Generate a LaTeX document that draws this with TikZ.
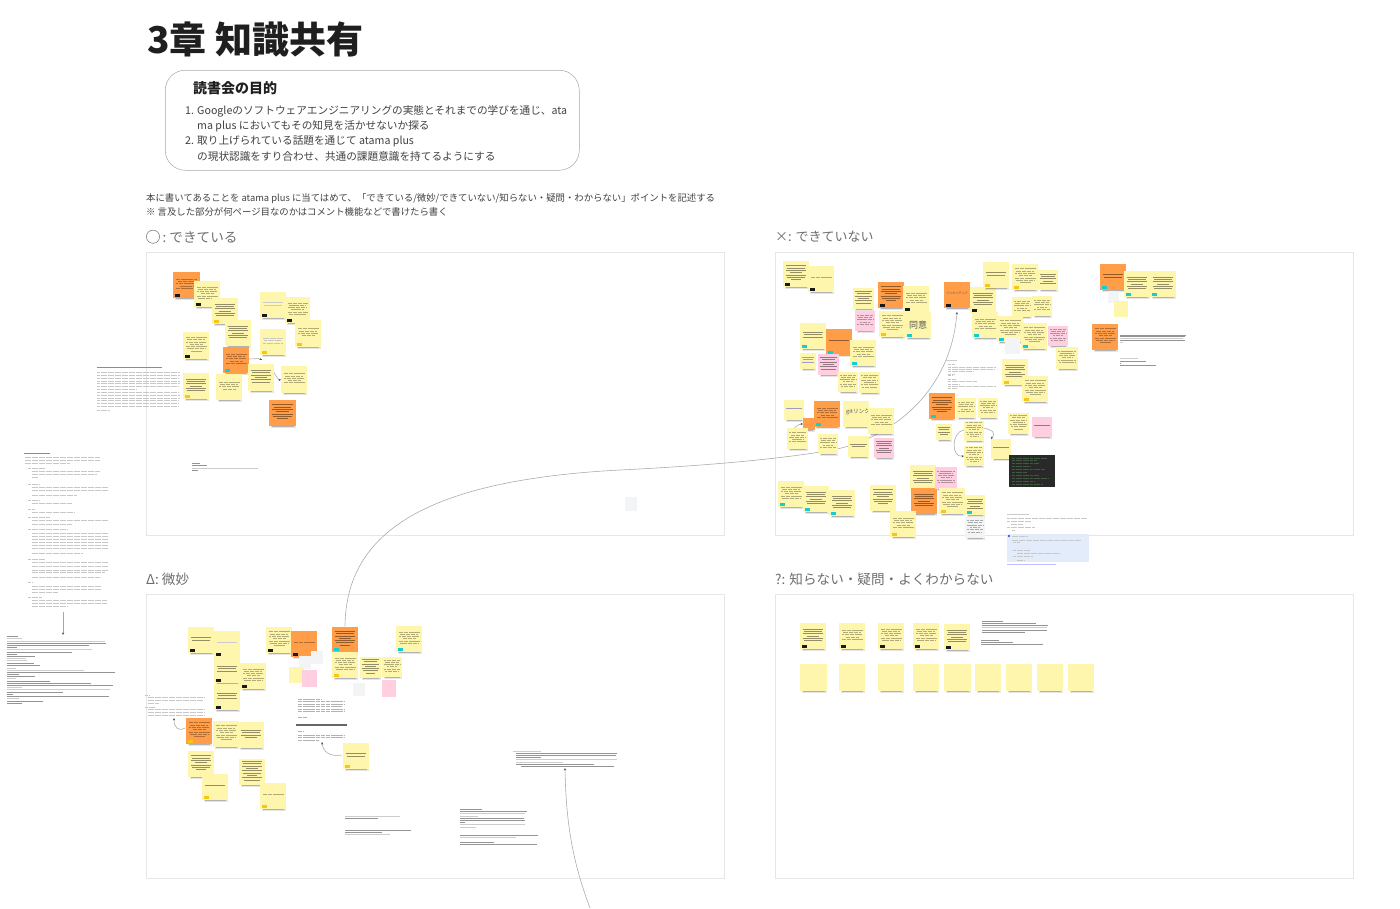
\documentclass[tikz,border=0pt]{standalone}
\usepackage{fontspec}
\setmainfont{Noto Sans CJK JP}
\usetikzlibrary{arrows.meta}
\definecolor{yel}{HTML}{FEF6AC}
\definecolor{ora}{HTML}{FF9D48}
\definecolor{pnk}{HTML}{FFCEE0}
\definecolor{gry}{HTML}{F3F4F6}
\definecolor{tagk}{HTML}{1A1A1A}
\definecolor{tagc}{HTML}{12CDD4}
\definecolor{tagg}{HTML}{FAC710}
\definecolor{frm}{HTML}{E6E6E6}
\definecolor{lbl}{HTML}{6E6E6E}
\definecolor{ink}{HTML}{1F1F1F}
\definecolor{bluedocc}{HTML}{E3ECFB}
\definecolor{darkln}{HTML}{3F5A3F}
\tikzset{
 x=1pt,y=-1pt,
 frame/.style={draw=frm,line width=.8pt,fill=white},
 stickyb/.style={anchor=north west,inner sep=0pt,outer sep=0pt,draw=none},
 flow/.style={draw=black!35,line width=.55pt},
 flowa/.style={flow,-{Stealth[length=2.5pt,width=2.2pt,black!70]}},
 grk/.style={draw=black,opacity=.42,line width=.85pt},
 grkl/.style={draw=black!20,line width=.9pt},
 grkt/.style={draw=black,opacity=.3,line width=1pt,dash pattern=on 2.2pt off .35pt},
 grktl/.style={draw=black!22,line width=.9pt,dash pattern=on 3pt off .5pt},
 lab/.style={anchor=west,inner sep=0pt,text=lbl,font=\fontsize{13.6}{15}\selectfont},
 body/.style={anchor=west,inner sep=0pt,text=ink!85,font=\fontsize{10.65}{12}\selectfont},
 note/.style={anchor=west,inner sep=0pt,text=ink!85,font=\fontsize{9.38}{11}\selectfont},
 stxt/.style={inner sep=0pt,text=ink!75},
}
% \stk{id}{x}{y}{w}{h}{fill}{tag colour or none}{number of rows}{row style}
\newcommand{\stk}[9]{%
 \fill[black,opacity=.10] (#2+1.5,#3+#5) rectangle (#2+#4-.5,#3+#5+2.2);
 \fill[black,opacity=.22] (#2+3,#3+#5) rectangle (#2+#4-2,#3+#5+1);
 \node[stickyb,fill=#6,minimum width=#4pt,minimum height=#5pt] (#1) at (#2,#3) {};
 \ifx\relax#7\relax\else
  \fill[#7] (#2+1.7,#3+#5-4) rectangle (#2+7.3,#3+#5-1.2);
 \fi
 \ifnum#8>0
 \foreach \ii in {1,...,#8}{%
  \pgfmathsetmacro{\wf}{{1,.82,.96,.62,1,.88,.5,.94,.78}[mod(\ii-1,9)]}
  \pgfmathsetmacro{\yy}{#3+#5/2-(#8-1)*1.15+(\ii-1)*2.3-(1.2)}
  \draw[#9] (#2+#4/2-.40*#4*\wf,\yy) -- (#2+#4/2+.40*#4*\wf,\yy);
 }\fi
}
\begin{document}
\begin{tikzpicture}
\useasboundingbox (0,0) rectangle (1400,908);
\fill[white] (0,0) rectangle (1400,908);

% title
\node[anchor=west,inner sep=0pt,text=ink,font=\fontsize{37}{40}\selectfont\bfseries] (title) at (147,39.5) {3章 知識共有};
\node[draw=black!35,line width=.5pt,rounded corners=20pt,minimum width=414pt,minimum height=100pt,anchor=north west,inner sep=0pt] (goalbox) at (165,70) {};
\node[anchor=west,inner sep=0pt,text=ink,font=\fontsize{14}{16}\selectfont\bfseries] (goalhead) at (193,88) {読書会の目的};
\node[body] (g1) at (185,111.5) {1. Googleのソフトウェアエンジニアリングの実態とそれまでの学びを通じ、ata};
\node[body] (g2) at (197,126.5) {ma plus においてもその知見を活かせないか探る};
\node[body] (g3) at (185,141.5) {2. 取り上げられている話題を通じて atama plus};
\node[body] (g4) at (197,156.5) {の現状認識をすり合わせ、共通の課題意識を持てるようにする};
\node[note] (n1) at (146,198.8) {本に書いてあることを atama plus に当てはめて、「できている/微妙/できていない/知らない・疑問・わからない」ポイントを記述する};
\node[note] (n2) at (146,211.8) {※ 言及した部分が何ページ目なのかはコメント機能などで書けたら書く};

% quadrant labels
\node[lab] (l1a) at (162.5,237) {:\hspace{3pt}できている};
\draw[lbl,line width=.5pt] (l1a.west) ++(-9.5,-.3) circle (6.6);
\node[lab,font=\fontsize{13}{15}\selectfont] (l2) at (775,237) {×: できていない};
\node[lab] (l3) at (146,579) {Δ: 微妙};
\node[lab] (l4) at (775,579) {?: 知らない・疑問・よくわからない};

% frames
\node[frame,stickyb,minimum width=578pt,minimum height=283pt,draw=frm] (fa) at (146,252) {};
\node[frame,stickyb,minimum width=578pt,minimum height=283pt,draw=frm] (fb) at (775,252) {};
\node[frame,stickyb,minimum width=578pt,minimum height=284pt,draw=frm] (fc) at (146,594) {};
\node[frame,stickyb,minimum width=578pt,minimum height=284pt,draw=frm] (fd) at (775,594) {};

% long connectors (behind stickies)
\coordinate (cvA) at (620,470);
\coordinate (cvB) at (820,452);
\coordinate (cvEnd) at (957,312);
\coordinate (cvLow) at (590,908);
\coordinate (cvLowTop) at (565,768);
\draw[flow] (345,626) .. controls (346,530) and (430,480) .. (cvA) .. controls (700,466) and (770,460) .. (cvB);
\draw[flowa] (cvB) .. controls (880,445) and (950,400) .. (cvEnd);
\draw[flowa] (cvLow) .. controls (575,868) and (566,830) .. (cvLowTop);

% --- quadrant 1
\stk{a1}{173}{272}{27}{26}{ora}{tagk}{5}{grkt}
\stk{a2}{194}{281}{26}{26}{yel}{tagk}{6}{grkt}
\stk{a3}{212}{298}{26}{26}{yel}{tagg}{6}{grk}
\stk{a4}{225}{320}{26}{26}{yel}{}{6}{grk}
\stk{a5}{260}{292}{26}{26}{yel}{tagk}{2}{grkl}
\stk{a6}{285}{297}{25}{26}{yel}{tagk}{6}{grkt}
\stk{a7}{295}{320}{26}{27}{yel}{tagg}{4}{grkt}
\stk{a8}{260}{329}{26}{26}{yel}{tagg}{3}{grktl}
\stk{a9}{183}{332}{26}{27}{yel}{tagk}{7}{grkt}
\stk{a10}{223}{347}{26}{26}{ora}{tagc}{5}{grkt}
\stk{a11}{183}{373}{26}{26}{yel}{tagg}{6}{grk}
\stk{a12}{216}{374}{26}{26}{yel}{}{4}{grkt}
\stk{a13}{248}{364}{26}{27}{yel}{}{6}{grk}
\stk{a14}{281}{366}{26}{27}{yel}{}{5}{grkt}
\stk{a15}{269}{400}{27}{26}{ora}{}{7}{grk}
\draw[flowa] (a10.east) ++(0,-1) .. controls (255,359) and (258,358) .. (262,360);
\draw[flowa] (a13.east) ++(0,-5) .. controls (277,378) and (279,380) .. (a14.west);

% --- quadrant 2
\stk{b1}{783}{261}{26}{26}{yel}{tagk}{7}{grk}
\stk{b2}{808}{266}{26}{26}{yel}{tagk}{1}{grkt}
\stk{b3}{853}{288}{21}{21}{yel}{}{6}{grk}
\stk{b4}{878}{282}{26}{26}{ora}{tagk}{7}{grk}
\stk{b5}{903}{286}{26}{26}{yel}{tagk}{5}{grkt}
\stk{b6}{855}{311}{20}{20}{pnk}{}{5}{grkt}
\stk{b7}{879}{311}{26}{26}{yel}{tagg}{7}{grkt}
\stk{b8}{905}{312}{26}{26}{yel}{tagc}{0}{grkt}
\node[stxt,font=\fontsize{9}{10}\selectfont] (b8t) at (b8.center) {同意};
\stk{b9}{944}{282}{26}{26}{ora}{tagk}{0}{grkt}
\node[stxt,font=\fontsize{3.1}{4}\selectfont] (b9t) at (957,293) {インセンティブ};
\stk{b10}{970}{287}{26}{26}{yel}{tagk}{6}{grk}
\stk{b11}{972}{312}{26}{26}{yel}{tagc}{5}{grkt}
\stk{b12}{800}{323}{26}{26}{yel}{tagc}{3}{grk}
\stk{b13}{826}{329}{26}{26}{ora}{tagc}{1}{grk}
\stk{b14}{850}{340}{26}{26}{yel}{tagc}{5}{grkt}
\stk{b15}{800}{353}{16}{16}{yel}{}{3}{draw=blue!30!gray!60,line width=.8pt}
\stk{b16}{818}{354}{21}{21}{pnk}{}{6}{grk}
\stk{b17}{838}{372}{20}{20}{yel}{}{6}{grkt}
\stk{b18}{859}{372}{21}{21}{yel}{}{6}{grkt}
\stk{b19}{784}{400}{20}{20}{yel}{}{1}{draw=blue!30!gray!60,line width=.8pt}
\stk{b20}{803}{418}{12}{12}{ora}{}{0}{grk}
\stk{b21}{814}{401}{26}{26}{ora}{tagc}{5}{grkt}
\stk{b22}{787}{428}{21}{21}{yel}{}{5}{grkt}
\stk{b23}{818}{434}{20}{20}{yel}{}{5}{grkt}
\stk{b24}{843}{401}{26}{26}{yel}{}{0}{grkt}
\node[stxt,anchor=west,font=\fontsize{5.6}{6}\selectfont] (b24t) at (846,412) {gitリンク};
\stk{b25}{868}{408}{26}{26}{yel}{}{5}{grkt}
\stk{b26}{848}{436}{21}{21}{yel}{}{2}{grk}
\stk{b27}{874}{438}{20}{20}{pnk}{}{6}{grk}
\stk{b28}{929}{393}{26}{26}{ora}{tagc}{7}{grk}
\stk{b29}{956}{398}{20}{20}{yel}{}{5}{grkt}
\stk{b30}{978}{398}{20}{20}{yel}{}{6}{grkt}
\stk{b31}{936}{424}{16}{16}{yel}{}{4}{grk}
\stk{b32}{964}{421}{20}{20}{yel}{}{7}{grkt}
\stk{b33}{964}{446}{20}{20}{yel}{}{7}{grkt}
\stk{b34}{991}{439}{20}{20}{yel}{}{1}{grk}
\stk{b35}{778}{481}{26}{26}{yel}{tagc}{6}{grkt}
\stk{b36}{803}{486}{26}{26}{yel}{tagc}{6}{grk}
\stk{b37}{829}{490}{26}{26}{yel}{tagc}{6}{grk}
\stk{b38}{870}{485}{26}{26}{yel}{}{7}{grk}
\stk{b39}{910}{465}{26}{26}{yel}{}{6}{grk}
\stk{b40}{911}{488}{26}{26}{ora}{}{6}{grk}
\stk{b41}{935}{467}{22}{22}{pnk}{}{6}{grkt}
\stk{b42}{939}{488}{26}{26}{yel}{tagg}{7}{grkt}
\stk{b43}{890}{511}{26}{26}{yel}{tagg}{5}{grkt}
\stk{b44}{965}{495}{20}{20}{yel}{tagc}{5}{grk}
\stk{b45}{965}{517}{20}{21}{gry}{}{6}{grkt}
\stk{b46}{983}{262}{26}{26}{yel}{tagg}{2}{grk}
\stk{b47}{1012}{264}{26}{26}{yel}{tagg}{7}{grkt}
\stk{b48}{1038}{270}{20}{20}{yel}{}{5}{grk}
\stk{b49}{1012}{297}{20}{20}{yel}{}{5}{grkt}
\stk{b50}{1032}{296}{20}{20}{yel}{}{5}{grkt}
\stk{b51}{997}{316}{26}{26}{yel}{tagc}{7}{grkt}
\node[stickyb,fill=gry,minimum width=15pt,minimum height=17pt] (b52) at (1005,337) {};
\stk{b53}{1021}{323}{26}{26}{yel}{tagc}{7}{grkt}
\stk{b54}{1048}{326}{20}{20}{pnk}{}{6}{grkt}
\stk{b55}{1056}{347}{22}{22}{yel}{}{6}{grkt}
\stk{b56}{1002}{359}{26}{26}{yel}{tagg}{6}{grk}
\stk{b57}{1022}{376}{26}{26}{yel}{tagg}{7}{grkt}
\stk{b58}{1008}{413}{21}{21}{yel}{}{7}{grkt}
\stk{b59}{1032}{417}{20}{20}{pnk}{}{1}{grk}
\stk{b60}{1100}{264}{26}{26}{ora}{tagc}{2}{grk}
\stk{b61}{1124}{271}{26}{26}{yel}{tagc}{6}{grk}
\stk{b62}{1150}{271}{26}{26}{yel}{tagc}{6}{grk}
\node[stickyb,fill=gry,minimum width=11pt,minimum height=12pt] (b63) at (1108,291) {};
\node[stickyb,fill=yel,minimum width=14pt,minimum height=16pt] (b64) at (1114,301) {};
\stk{b65}{1092}{324}{26}{26}{ora}{}{7}{grkt}
\draw[flowa] (b32.east) ++(0,-3) .. controls (990,430) and (997,431) .. (b34.north west);
\draw[flowa] (b32.west) ++(0,-1) .. controls (951,432) and (951,458) .. (b33.west);
\draw[flowa] (b22.north) ++(-3,0) .. controls (797,425) and (800,424) .. (b20.west);

% dark screenshot
\node[stickyb,fill=black!84,minimum width=46pt,minimum height=32pt] (dark) at (1009,455) {};
\begin{scope}[shift={(dark.north west)}]
\foreach \yy/\xx in {3/38,5/28,8/30,11/22,14/36,17/18,20/30,23/40,26/26,29/34}
 \draw[darkln,line width=.5pt,dash pattern=on 3pt off .6pt] (3,\yy) -- (\xx,\yy);
\end{scope}

% greeked document in quadrant 2
\begin{scope}[shift={(920,255)},x=.3333pt,y=-.3333pt]
\draw[grkl] (75,317) -- (112,317);
\foreach \aa/\bb/\cc in {85/105/328,85/228/336,85/225/343,85/160/350,85/105/357,85/100/362,85/108/373,85/170/379,85/120/389,85/228/394,85/110/400}
 \draw[grktl] (\aa,\cc) -- (\bb,\cc);
\draw[grkl] (262,777) -- (326,777);
\node[stickyb,fill=bluedocc,minimum width=82.5pt,minimum height=28pt] (bluedoc) at (260,838) {};
\foreach \aa/\bb/\cc in {262/500/789,262/335/798,272/310/807,262/345/818,275/285/827,275/485/855,280/300/863,280/330/885,290/420/895,280/340/904,290/315/915}
 \draw[grktl] (\aa,\cc) -- (\bb,\cc);
\draw[grktl] (275,843) -- (325,843);
\fill[blue!65] (264,841) rectangle (271,847);
\draw[blue!25,line width=.8pt] (262,928) -- (408,928);
\foreach \aa/\bb/\cc/\ss in {600/798/240/grk,600/795/245/grk,600/790/251/grkl,600/795/257/grk,600/608/262/grkl,600/654/311/grkl,600/678/318/grk,600/604/325/grk,600/707/331/grk}
 \draw[\ss] (\aa,\cc) -- (\bb,\cc);
\end{scope}

% --- quadrant 3
\stk{c1}{188}{627}{26}{26}{yel}{tagk}{2}{grk}
\stk{c2}{214}{631}{26}{26}{yel}{tagk}{1}{grkl}
\stk{c3}{214}{657}{26}{26}{yel}{tagk}{3}{grk}
\stk{c4}{240}{663}{26}{26}{yel}{tagk}{6}{grkt}
\stk{c5}{214}{684}{26}{26}{yel}{tagk}{3}{grk}
\stk{c6}{266}{627}{26}{26}{yel}{tagk}{7}{grkt}
\stk{c7}{291}{631}{26}{26}{ora}{tagk}{1}{grkt}
\node[stickyb,fill=gry,minimum width=12pt,minimum height=13pt] (c8) at (299,656) {};
\node[stickyb,fill=gry,minimum width=12pt,minimum height=13pt] (c9) at (311,651) {};
\node[stickyb,fill=yel,minimum width=15pt,minimum height=16pt] (c10) at (289,667) {};
\node[stickyb,fill=pnk,minimum width=15pt,minimum height=17pt] (c11) at (302,670) {};
\stk{c12}{332}{627}{26}{25}{ora}{tagc}{7}{grk}
\stk{c13}{332}{652}{26}{26}{yel}{tagg}{6}{grkt}
\stk{c14}{360}{657}{21}{21}{yel}{}{7}{grk}
\stk{c15}{382}{657}{20}{20}{yel}{}{6}{grkt}
\stk{c16}{396}{626}{26}{26}{yel}{tagc}{6}{grkt}
\node[stickyb,fill=gry,minimum width=12pt,minimum height=13pt] (c17) at (353,683) {};
\node[stickyb,fill=pnk,minimum width=14pt,minimum height=17pt] (c18) at (382,680) {};
\stk{c19}{186}{718}{26}{26}{ora}{tagg}{7}{grkt}
\stk{c20}{213}{721}{26}{26}{yel}{}{7}{grkt}
\stk{c21}{238}{722}{26}{26}{yel}{}{4}{grk}
\stk{c22}{188}{751}{26}{26}{yel}{}{7}{grk}
\stk{c23}{202}{774}{26}{26}{yel}{tagg}{1}{grk}
\stk{c24}{239}{759}{26}{26}{yel}{}{9}{grk}
\stk{c25}{260}{783}{26}{26}{yel}{tagg}{1}{grkt}
\stk{c26}{343}{743}{26}{26}{yel}{tagg}{2}{grk}
\coordinate (c19a) at (174,718);
\coordinate (c26a) at (322,742);
\draw[flowa] (c19.west) ++(-1,-3) .. controls (178,732) and (174,727) .. (c19a);
\draw[flowa] (c26.west) ++(-1,-1) .. controls (330,757) and (323,752) .. (c26a);

% greeked documents around quadrant 3
\begin{scope}[shift={(145,615)},x=.3333pt,y=-.3333pt]
\foreach \aa/\bb/\cc in {0/12/241,8/178/248,8/175/256,8/40/265,0/30/277,8/178/284,8/178/292,8/178/300}
 \draw[grktl] (\aa,\cc) -- (\bb,\cc);
\foreach \aa/\bb/\cc in {458/530/252,458/600/260,458/600/268,458/590/275,458/600/283,458/600/290,458/485/306,458/475/349,458/600/361,458/600/369,458/520/376}
 \draw[grkt] (\aa,\cc) -- (\bb,\cc);
\draw[black!60,line width=1.1pt] (453,330) -- (605,330);
\end{scope}
\begin{scope}[shift={(340,740)},x=.3333pt,y=-.3333pt]
\foreach \aa/\bb/\cc/\ss in {
 519/602/33/grkl,528/830/40/grk,528/828/46/grk,528/603/52/grk,528/830/58/grkl,528/668/67/grkl,528/762/73/grk,543/822/79/grk,
 15/180/229/grkl,15/113/235/grk,15/213/271/grk,15/126/277/grk,15/150/284/grkl,
 360/425/208/grk,360/560/214/grk,360/555/220/grkl,360/413/230/grkl,360/552/235/grk,360/555/241/grk,360/375/247/grk,360/555/254/grkl,360/408/261/grkl,360/595/286/grk,360/528/292/grkl,360/462/307/grk,360/590/313/grk}
 \draw[\ss] (\aa,\cc) -- (\bb,\cc);
\end{scope}

% --- quadrant 4
\stk{d1}{800}{623}{26}{26}{yel}{tagk}{6}{grk}
\stk{d2}{839}{623}{26}{26}{yel}{tagk}{5}{grkt}
\stk{d3}{878}{623}{26}{26}{yel}{tagk}{6}{grkt}
\stk{d4}{913}{623}{26}{26}{yel}{tagk}{6}{grkt}
\stk{d5}{944}{624}{26}{26}{yel}{tagk}{6}{grk}
\stk{e1}{800}{664}{27}{27}{yel}{}{0}{grk}
\stk{e2}{839}{664}{26}{27}{yel}{}{0}{grk}
\stk{e3}{878}{664}{26}{27}{yel}{}{0}{grk}
\stk{e4}{913}{664}{26}{27}{yel}{}{0}{grk}
\stk{e5}{944}{664}{27}{27}{yel}{}{0}{grk}
\stk{e6}{975}{664}{26}{27}{yel}{}{0}{grk}
\stk{e7}{1006}{664}{26}{27}{yel}{}{0}{grk}
\stk{e8}{1037}{664}{26}{27}{yel}{}{0}{grk}
\stk{e9}{1068}{664}{26}{27}{yel}{}{0}{grk}
\begin{scope}[shift={(790,610)},x=.3333pt,y=-.3333pt]
\foreach \aa/\bb/\cc/\ss in {575/640/35/grk,575/738/41/grk,575/775/47/grk,575/770/53/grkl,575/770/60/grk,575/706/67/grk,573/628/91/grk,573/668/97/grk,573/758/103/grk}
 \draw[\ss] (\aa,\cc) -- (\bb,\cc);
\end{scope}

% small greeked text in quadrant 1
\begin{scope}[shift={(90,255)},x=.3333pt,y=-.3333pt]
\draw[draw=black!45,line width=.9pt] (20,338) -- (217,338);
\foreach \aa/\bb/\cc in {22/270/353,22/270/361,22/265/369,22/270/378,22/270/386,22/268/395,22/140/404,22/265/413,22/270/421,22/270/429,22/268/437,22/268/445,22/265/455,22/60/466}
 \draw[grktl] (\aa,\cc) -- (\bb,\cc);
\foreach \aa/\bb/\cc/\ss in {306/330/625/grk,306/350/631/grk,306/503/640/grkl,306/324/646/grk}
 \draw[\ss] (\aa,\cc) -- (\bb,\cc);
\end{scope}
\node[stickyb,fill=gry,minimum width=12pt,minimum height=14pt] (q1gray) at (625,497) {};

% far-left documents
\coordinate (dl1) at (63,612);
\coordinate (dl2) at (63,635);
\draw[flowa] (dl1) -- (dl2);
\begin{scope}[shift={(0,440)},x=.3333pt,y=-.3333pt]
\draw[draw=black!45,line width=.9pt] (73,39) -- (150,39);
\foreach \aa/\bb/\cc in {75/300/52,75/300/60,75/210/70,85/135/85,95/300/95,95/290/103,95/115/113,85/118/133,95/325/143,95/325/152,95/230/165,85/118/180,95/215/191,85/105/207,95/225/218,85/150/232,95/325/242,95/215/253,85/205/268,95/325/279,95/325/288,95/325/298,95/325/307,95/325/316,95/325/325,95/250/340,85/135/357,95/325/367,95/325/380,95/325/390,95/315/398,95/300/413,85/100/428,95/305/438,95/305/447,95/175/457,85/125/472,95/320/482,95/320/491,95/205/500}
 \draw[grktl] (\aa,\cc) -- (\bb,\cc);
\foreach \bb/\cc/\ss in {55/589/grk,65/596/grkl,315/603/grkl,318/610/grk,268/616/grk,50/622/grk,275/629/grkl,215/637/grk,50/643/grk,105/649/grk,78/656/grkl,80/662/grkl,103/670/grk,120/677/grk,47/684/grkl,253/690/grkl,345/697/grk,57/704/grk,105/709/grk,47/716/grkl,150/724/grk,272/730/grk,340/737/grk,65/743/grkl,330/749/grkl,188/756/grk,38/762/grk,327/769/grk,57/776/grkl,128/783/grk,65/790/grk}
 \draw[\ss] (20,\cc) -- (\bb,\cc);
\end{scope}
\end{tikzpicture}
\end{document}
